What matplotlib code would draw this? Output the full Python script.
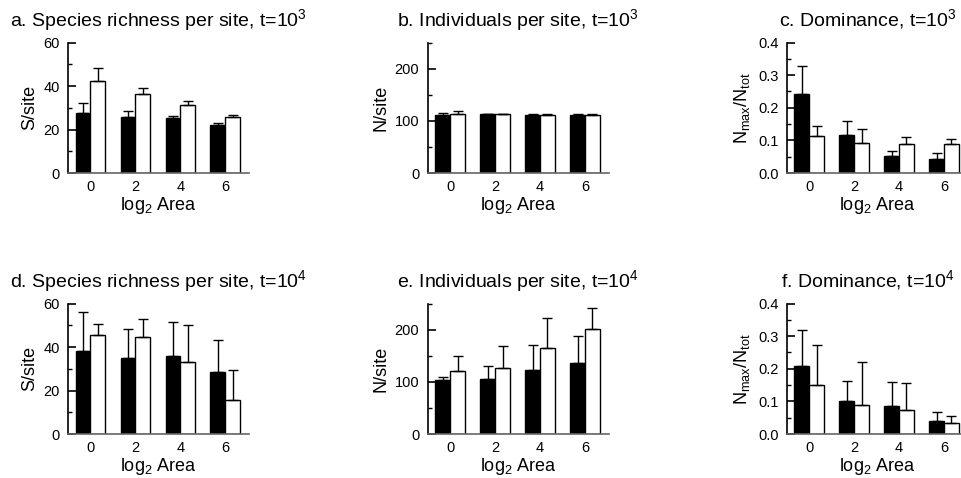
import numpy as np
import matplotlib
matplotlib.use("Agg")
import matplotlib.pyplot as plt
from matplotlib.ticker import MultipleLocator, FormatStrFormatter

plt.rcParams['font.family'] = ['Liberation Sans', 'DejaVu Sans']
plt.rcParams['mathtext.fontset'] = 'custom'
plt.rcParams['mathtext.rm'] = 'Liberation Sans'
plt.rcParams['mathtext.it'] = 'Liberation Sans'

# log2 area groups
areas = [0, 2, 4, 6]

# t = 10^3
rich3_black = [27.4, 25.8, 25.1, 22.0]
rich3_black_err = [4.9, 2.7, 0.9, 1.2]
rich3_white = [42.2, 36.3, 31.1, 25.8]
rich3_white_err = [6.0, 2.8, 2.0, 0.8]

ind3_black = [110.5, 112.5, 111.0, 112.0]
ind3_black_err = [4.5, 1.2, 1.5, 1.7]
ind3_white = [113.7, 112.5, 112.0, 112.0]
ind3_white_err = [4.3, 1.5, 1.0, 0.5]

dom3_black = [0.241, 0.117, 0.051, 0.042]
dom3_black_err = [0.087, 0.043, 0.018, 0.020]
dom3_white = [0.113, 0.093, 0.090, 0.090]
dom3_white_err = [0.030, 0.041, 0.019, 0.014]

# t = 10^4
rich4_black = [38.2, 35.1, 35.7, 28.7]
rich4_black_err = [18.1, 13.4, 15.8, 14.5]
rich4_white = [45.6, 44.6, 33.3, 15.7]
rich4_white_err = [5.2, 8.4, 16.6, 13.8]

ind4_black = [104.0, 105.4, 123.0, 137.0]
ind4_black_err = [5.0, 24.6, 47.6, 50.0]
ind4_white = [120.0, 127.0, 165.0, 202.0]
ind4_white_err = [29.0, 41.0, 57.0, 39.0]

dom4_black = [0.208, 0.102, 0.085, 0.040]
dom4_black_err = [0.112, 0.062, 0.076, 0.027]
dom4_white = [0.151, 0.090, 0.074, 0.034]
dom4_white_err = [0.122, 0.132, 0.082, 0.022]

titles = [
    "a. Species richness per site, t=10$^3$",
    "b. Individuals per site, t=10$^3$",
    "c. Dominance, t=10$^3$",
    "d. Species richness per site, t=10$^4$",
    "e. Individuals per site, t=10$^4$",
    "f. Dominance, t=10$^4$",
]
ylabels = ["S/site", "N/site", r"$\mathrm{N_{max}/N_{tot}}$"] * 2
series = [
    (rich3_black, rich3_black_err, rich3_white, rich3_white_err),
    (ind3_black, ind3_black_err, ind3_white, ind3_white_err),
    (dom3_black, dom3_black_err, dom3_white, dom3_white_err),
    (rich4_black, rich4_black_err, rich4_white, rich4_white_err),
    (ind4_black, ind4_black_err, ind4_white, ind4_white_err),
    (dom4_black, dom4_black_err, dom4_white, dom4_white_err),
]
yscales = [(60, 20, 10, "%d"), (250, 100, 50, "%d"), (0.4, 0.1, 0.05, "%.1f")] * 2

fig = plt.figure(figsize=(9.62, 4.78), dpi=100)
lefts = [0.0707, 0.4446, 0.8178]
bottoms = [0.638, 0.092]
w, h = 0.188, 0.273
bw = 0.66

for i in range(6):
    ax = fig.add_axes([lefts[i % 3], bottoms[i // 3], w, h])
    kb, eb, kw, ew = series[i]
    x = np.array(areas)
    ax.bar(x - bw / 2, kb, bw, color='black', edgecolor='black', linewidth=1,
           yerr=[np.zeros(4), eb], capsize=3.6,
           error_kw=dict(ecolor='black', elinewidth=1, capthick=1))
    ax.bar(x + bw / 2, kw, bw, color='white', edgecolor='black', linewidth=1,
           yerr=[np.zeros(4), ew], capsize=3.6,
           error_kw=dict(ecolor='black', elinewidth=1, capthick=1))
    top, major, minor, fmt = yscales[i]
    ax.set_ylim(0, top)
    ax.set_xlim(-1.0, 7.05)
    ax.yaxis.set_major_locator(MultipleLocator(major))
    ax.yaxis.set_minor_locator(MultipleLocator(minor))
    ax.yaxis.set_major_formatter(FormatStrFormatter(fmt))
    ax.set_xticks(areas)
    ax.tick_params(axis='y', which='major', direction='in', length=6, width=1.2, labelsize=10.5, pad=6)
    ax.tick_params(axis='y', which='minor', direction='in', length=3, width=1)
    ax.tick_params(axis='x', length=0, labelsize=10.5, pad=5)
    for s in ['top', 'right']:
        ax.spines[s].set_visible(False)
    ax.spines['left'].set_linewidth(1.2)
    ax.spines['bottom'].set_linewidth(1.2)
    ax.spines['bottom'].set_color('0.4')
    t = ax.set_title(titles[i], fontsize=14, pad=12)
    if i % 3 == 2:
        t.set_x(0.45)
    ax.set_ylabel(ylabels[i], fontsize=13)
    ax.set_xlabel("log$_2$ Area", fontsize=13, labelpad=0.5)

fig.savefig("out.png", dpi=100)
